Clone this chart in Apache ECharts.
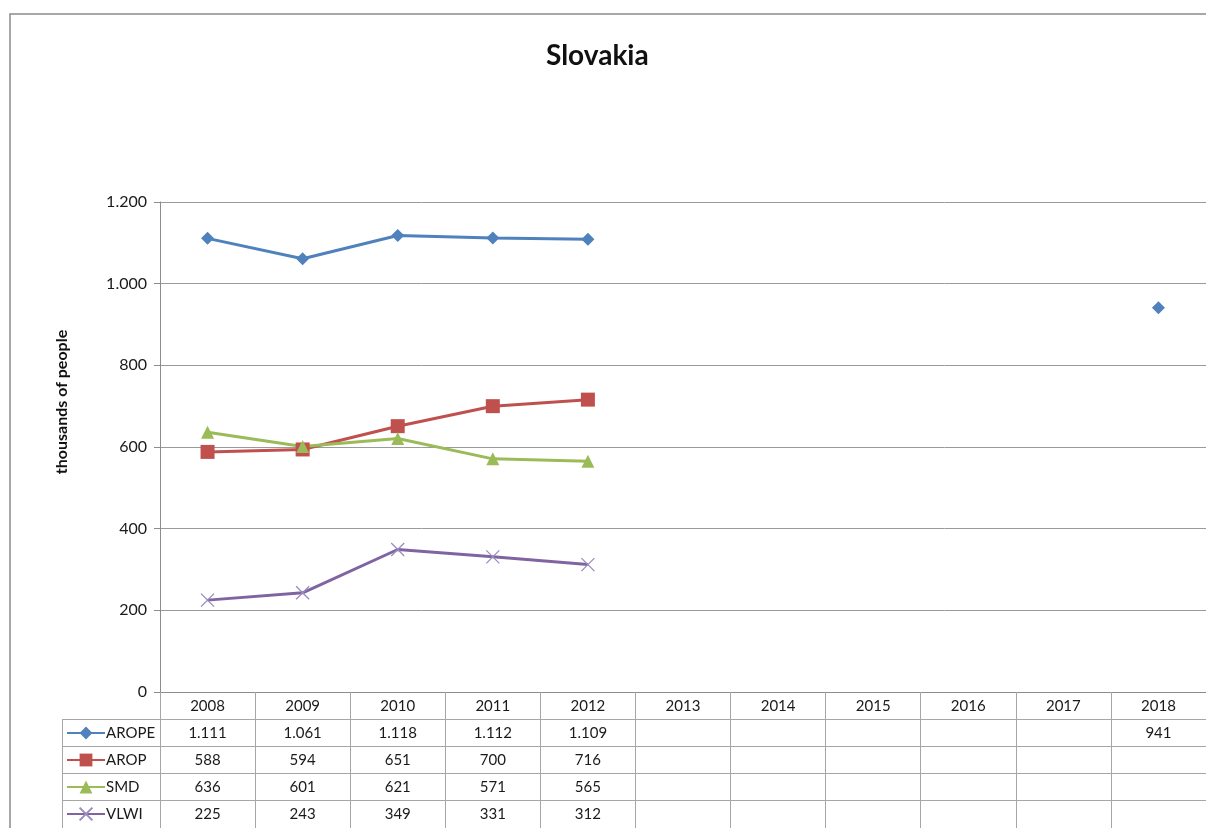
<!DOCTYPE html>
<html>
<head>
<meta charset="utf-8">
<script src="https://cdn.jsdelivr.net/npm/echarts@6/dist/echarts.min.js"></script>
<style>html,body{margin:0;padding:0;background:#fff}#c{width:1206px;height:828px}</style>
</head>
<body>
<div id="c"></div>
<script>
const years = ['2008','2009','2010','2011','2012','2013','2014','2015','2016','2017','2018'];
const arope = [1111, 1061, 1118, 1112, 1109, null, null, null, null, null, 941];
const arop  = [588, 594, 651, 700, 716, null, null, null, null, null, null];
const smd   = [636, 601, 621, 571, 565, null, null, null, null, null, null];
const vlwi  = [225, 243, 349, 331, 312, null, null, null, null, null, null];
const seriesNames = ['AROPE', 'AROP', 'SMD', 'VLWI'];
const yTicks = [0, 200, 400, 600, 800, 1000, 1200];

const FONT = 'Lato, "Open Sans", sans-serif';
const GRID_LEFT = 160, GRID_TOP = 202, GRID_BOTTOM = 136, ROW_H = 27;
const W = 1206, H = 828;
const axisBottom = H - GRID_BOTTOM;
const TXT = '#1a1a1a';

function fmt(v) {
  if (v === null || v === undefined) return '';
  if (v >= 1000) return Math.floor(v / 1000) + '.' + String(v % 1000).padStart(3, '0');
  return String(v);
}

const allData = [arope, arop, smd, vlwi];
const colors = ['#4F81BD', '#C0504D', '#9BBB59', '#8064A2'];
const symbols = ['diamond', 'rect', 'triangle', 'path://M0,0L10,10M10,0L0,10'];
const symbolSizes = [13, 14, 13, 13];

const chart = echarts.init(document.getElementById('c'), null, {renderer: 'canvas'});

const xAxes = [{
  type: 'category', data: years, gridIndex: 0, position: 'bottom',
  boundaryGap: true,
  axisLine: {show: true, lineStyle: {color: '#8c8c8c', width: 1}},
  axisTick: {show: true, inside: false, length: GRID_BOTTOM, interval: 0, lineStyle: {color: '#a6a6a6'}},
  axisLabel: {interval: 0, margin: 7, fontSize: 15, color: TXT, fontFamily: FONT},
  splitLine: {show: false}
}];
allData.forEach((arr, k) => {
  xAxes.push({
    type: 'category', data: years, gridIndex: 0, position: 'bottom',
    offset: ROW_H * (k + 1),
    axisLine: {show: false}, axisTick: {show: false},
    axisLabel: {interval: 0, margin: 7, fontSize: 15, color: TXT, fontFamily: FONT,
      formatter: (val, idx) => fmt(arr[idx])}
  });
});

const graphics = [
  {type: 'rect', shape: {x: 10, y: 14, width: W, height: H}, style: {fill: 'none', stroke: '#8a8a8a', lineWidth: 1.5}, silent: true},
  {type: 'text', x: 62, y: 402, rotation: Math.PI / 2, style: {text: 'thousands of people', font: 'bold 16px ' + FONT, fill: '#111', textAlign: 'center', textVerticalAlign: 'middle'}},
  {type: 'line', shape: {x1: 62.5, y1: axisBottom + ROW_H, x2: 62.5, y2: H}, style: {stroke: '#a6a6a6', lineWidth: 1}}
];
for (let k = 1; k <= 4; k++) {
  graphics.push({type: 'line', shape: {x1: 62, y1: axisBottom + ROW_H * k + 0.5, x2: W, y2: axisBottom + ROW_H * k + 0.5}, style: {stroke: '#a6a6a6', lineWidth: 1}});
}

const option = {
  backgroundColor: '#fff',
  animation: false,
  title: {text: 'Slovakia', left: 541, top: 37, textStyle: {fontSize: 28, fontWeight: 'bold', color: '#111', fontFamily: FONT}},
  grid: {left: GRID_LEFT, right: 0, top: GRID_TOP, bottom: GRID_BOTTOM, containLabel: false},
  legend: {
    orient: 'vertical', left: 66, top: axisBottom + ROW_H + 6, itemGap: 11,
    itemWidth: 38, itemHeight: 16, padding: 0,
    textStyle: {fontSize: 15, color: TXT, fontFamily: FONT, lineHeight: 16, padding: [0, 0, 0, -4]},
    data: seriesNames
  },
  xAxis: xAxes,
  yAxis: {
    type: 'value', min: yTicks[0], max: yTicks[yTicks.length - 1], interval: 200,
    axisLine: {show: true, lineStyle: {color: '#8c8c8c'}},
    axisTick: {show: true, length: 6, lineStyle: {color: '#8c8c8c'}},
    axisLabel: {margin: 13, fontSize: 16, color: TXT, fontFamily: FONT, formatter: v => fmt(v)},
    splitLine: {show: true, lineStyle: {color: '#9a9a9a', width: 1}}
  },
  series: allData.map((arr, k) => ({
    name: seriesNames[k], type: 'line', data: arr, xAxisIndex: 0,
    symbol: symbols[k], symbolSize: symbolSizes[k], showSymbol: true,
    connectNulls: false,
    lineStyle: {color: colors[k], width: 3},
    itemStyle: k === 3 ? {color: colors[k], borderColor: '#9a8bbd', borderWidth: 1.3} : {color: colors[k]},
    emphasis: {disabled: true}
  })),
  graphic: graphics
};
chart.setOption(option);
</script>
</body>
</html>
